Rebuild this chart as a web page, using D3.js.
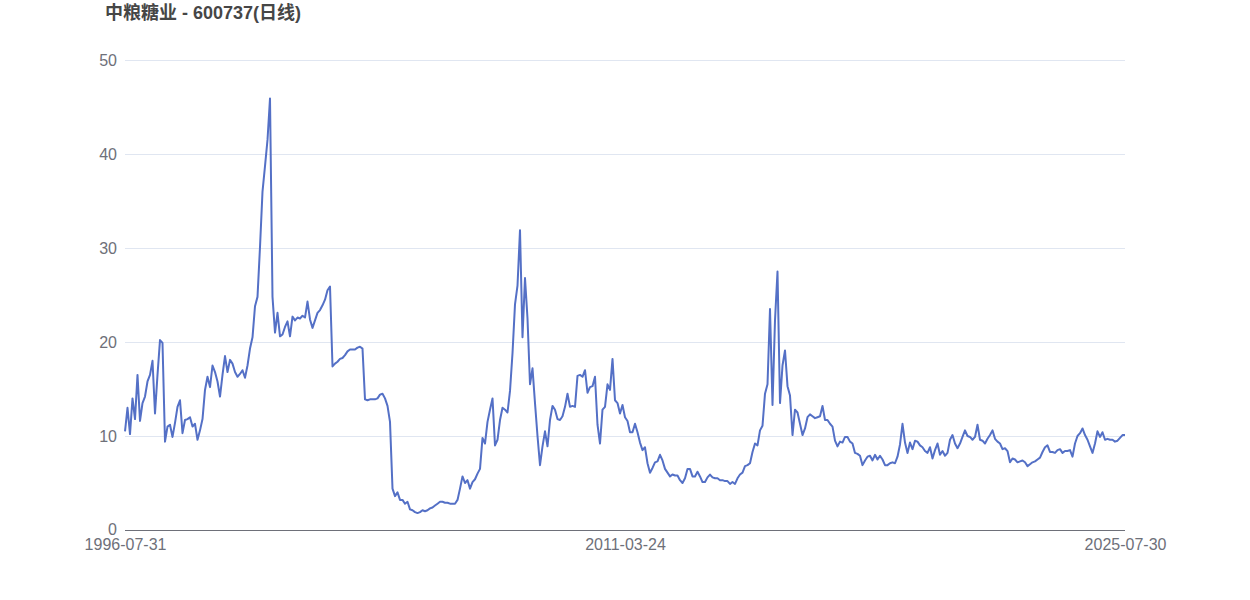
<!DOCTYPE html>
<html>
<head>
<meta charset="utf-8">
<script src="https://cdn.jsdelivr.net/npm/d3@7/dist/d3.min.js"></script>
<style>
  html, body { margin: 0; padding: 0; background: #ffffff; }
  svg { display: block; }
  text { font-family: "Liberation Sans", Arial, "Noto Sans CJK SC", sans-serif; }
</style>
</head>
<body>
<svg id="chart" width="1250" height="600"></svg>
<script>
const titleText = "中粮糖业 - 600737(日线)";
const tickLabels = ["1996-07-31", "2011-03-24", "2025-07-30"];
const yTicks = [0, 10, 20, 30, 40, 50];
const closeValues = [
  10.5, 13.0, 10.2, 14.0, 11.8, 16.5, 11.6, 13.5, 14.2, 15.8,
  16.5, 18.0, 12.4, 16.5, 20.2, 19.9, 9.4, 11.0, 11.2, 9.9,
  11.4, 13.1, 13.8, 10.3, 11.7, 11.8, 12.0, 11.0, 11.3, 9.6,
  10.6, 11.8, 14.9, 16.3, 15.2, 17.5, 16.8, 15.8, 14.2, 16.5,
  18.5, 16.8, 18.1, 17.7, 16.8, 16.3, 16.6, 17.0, 16.2, 17.5,
  19.3, 20.5, 23.8, 24.8, 30.1, 36.0, 38.7, 41.5, 45.9, 24.8,
  21.0, 23.1, 20.6, 20.8, 21.6, 22.2, 20.6, 22.7, 22.3, 22.6,
  22.5, 22.8, 22.6, 24.3, 22.4, 21.5, 22.3, 23.1, 23.4, 23.9,
  24.5, 25.5, 25.9, 17.4, 17.7, 17.9, 18.2, 18.3, 18.6, 19.0,
  19.2, 19.2, 19.2, 19.4, 19.5, 19.3, 13.9, 13.8, 13.9, 13.9,
  13.9, 14.0, 14.4, 14.5, 14.0, 13.2, 11.5, 4.4, 3.6, 4.0,
  3.2, 3.2, 2.8, 3.0, 2.2, 2.1, 1.9, 1.8, 1.9, 2.1,
  2.0, 2.1, 2.3, 2.4, 2.6, 2.8, 3.0, 3.0, 2.9, 2.9,
  2.8, 2.8, 2.8, 3.2, 4.4, 5.7, 5.0, 5.3, 4.4, 5.1,
  5.4, 6.0, 6.5, 9.8, 9.2, 11.5, 12.8, 14.0, 9.0, 9.6,
  11.7, 13.0, 12.8, 12.5, 14.8, 18.8, 24.0, 26.0, 31.9, 20.5,
  26.8, 22.5, 15.5, 17.2, 13.5, 10.0, 6.9, 8.9, 10.5, 8.9,
  11.7, 13.2, 12.8, 11.8, 11.7, 12.1, 13.1, 14.5, 13.1, 13.2,
  13.1, 16.4, 16.5, 16.3, 17.0, 14.6, 15.2, 15.3, 16.3, 11.2,
  9.2, 12.8, 13.1, 15.5, 14.9, 18.2, 13.8, 13.5, 12.4, 13.3,
  12.0, 11.6, 10.4, 10.4, 11.3, 10.4, 9.3, 8.5, 8.8, 7.1,
  6.1, 6.6, 7.2, 7.3, 8.0, 7.4, 6.5, 6.1, 5.7, 5.9,
  5.8, 5.8, 5.3, 5.0, 5.5, 6.5, 6.5, 5.7, 5.7, 6.2,
  5.7, 5.1, 5.1, 5.6, 5.9, 5.6, 5.5, 5.5, 5.3, 5.3,
  5.2, 5.2, 4.9, 5.1, 4.9, 5.5, 5.9, 6.1, 6.8, 6.9,
  7.1, 8.3, 9.2, 9.0, 10.6, 11.1, 14.5, 15.5, 23.5, 13.3,
  22.3, 27.5, 13.5, 17.5, 19.1, 15.3, 14.3, 10.1, 12.8, 12.5,
  11.3, 10.1, 10.8, 12.0, 12.3, 12.1, 11.9, 12.0, 12.1, 13.2,
  11.7, 11.7, 11.3, 11.0, 9.5, 8.9, 9.4, 9.3, 9.9, 9.9,
  9.4, 9.2, 8.2, 8.1, 7.9, 6.9, 7.4, 7.8, 7.9, 7.4,
  8.0, 7.5, 7.9, 7.5, 6.9, 6.9, 7.1, 7.2, 7.1, 7.8,
  9.1, 11.3, 9.3, 8.2, 9.3, 8.6, 9.5, 9.4, 9.0, 8.8,
  8.4, 8.2, 8.8, 7.6, 8.5, 9.2, 8.0, 8.4, 7.9, 8.2,
  9.6, 10.1, 9.2, 8.7, 9.2, 9.9, 10.6, 10.0, 9.9, 9.6,
  9.9, 11.2, 9.6, 9.5, 9.2, 9.7, 10.1, 10.6, 9.7, 9.4,
  9.2, 8.6, 8.7, 8.4, 7.2, 7.6, 7.5, 7.2, 7.3, 7.4,
  7.2, 6.8, 7.0, 7.2, 7.3, 7.5, 7.7, 8.3, 8.8, 9.0,
  8.3, 8.3, 8.2, 8.5, 8.6, 8.2, 8.4, 8.4, 8.5, 7.8,
  9.2, 10.0, 10.3, 10.8, 10.1, 9.6, 8.9, 8.2, 9.2, 10.5,
  9.9, 10.4, 9.6, 9.7, 9.6, 9.6, 9.4, 9.5, 9.8, 10.1,
  10.1
];

const svg = d3.select("#chart");
const plotLeft = 125, plotRight = 1125, plotTop = 60, plotBottom = 530;
const n = closeValues.length;

const x = d3.scaleLinear().domain([0, n - 1]).range([plotLeft, plotRight]);
const y = d3.scaleLinear().domain([0, 50]).range([plotBottom, plotTop]);

// grid lines
svg.append("g").selectAll("line")
  .data(yTicks.filter(d => d !== 0))
  .join("line")
  .attr("x1", plotLeft).attr("x2", plotRight)
  .attr("y1", d => y(d) + 0.5).attr("y2", d => y(d) + 0.5)
  .attr("stroke", "#E0E6F1").attr("stroke-width", 1);

// y axis labels
const yAxis = d3.axisLeft(y).tickValues(yTicks).tickSize(0).tickPadding(8);
const gy = svg.append("g").attr("transform", `translate(${plotLeft},0)`).call(yAxis);
gy.select(".domain").remove();
gy.selectAll("text").attr("fill", "#6E7079").style("font-size", "16px")
  .style("font-family", "\"Liberation Sans\", Arial, sans-serif");
gy.selectAll(".tick").filter(d => d === 0).select("text").attr("dy", "0.25em");

// x axis
const tickIdx = [0, Math.floor((n - 1) / 2), n - 1];
const xAxis = d3.axisBottom(x).tickValues(tickIdx)
  .tickFormat((d, i) => tickLabels[i]).tickSize(0).tickPadding(9);
const gx = svg.append("g").attr("transform", `translate(0,${plotBottom})`).call(xAxis);
gx.select(".domain").attr("stroke", "#6E7079").attr("stroke-width", 1)
  .attr("d", `M${plotLeft},0.5H${plotRight}`);
gx.selectAll("text").attr("fill", "#6E7079").style("font-size", "16px")
  .style("font-family", "\"Liberation Sans\", Arial, sans-serif");

// line
const line = d3.line().x((d, i) => x(i)).y(d => y(d));
svg.append("path")
  .datum(closeValues)
  .attr("d", line)
  .attr("fill", "none")
  .attr("stroke", "#5470c6")
  .attr("stroke-width", 2)
  .attr("stroke-linejoin", "round");

// title
svg.append("text")
  .attr("x", 105).attr("y", 19)
  .attr("fill", "#464646")
  .style("font-size", "18px")
  .style("font-weight", "bold")
  .text(titleText);
</script>
</body>
</html>
